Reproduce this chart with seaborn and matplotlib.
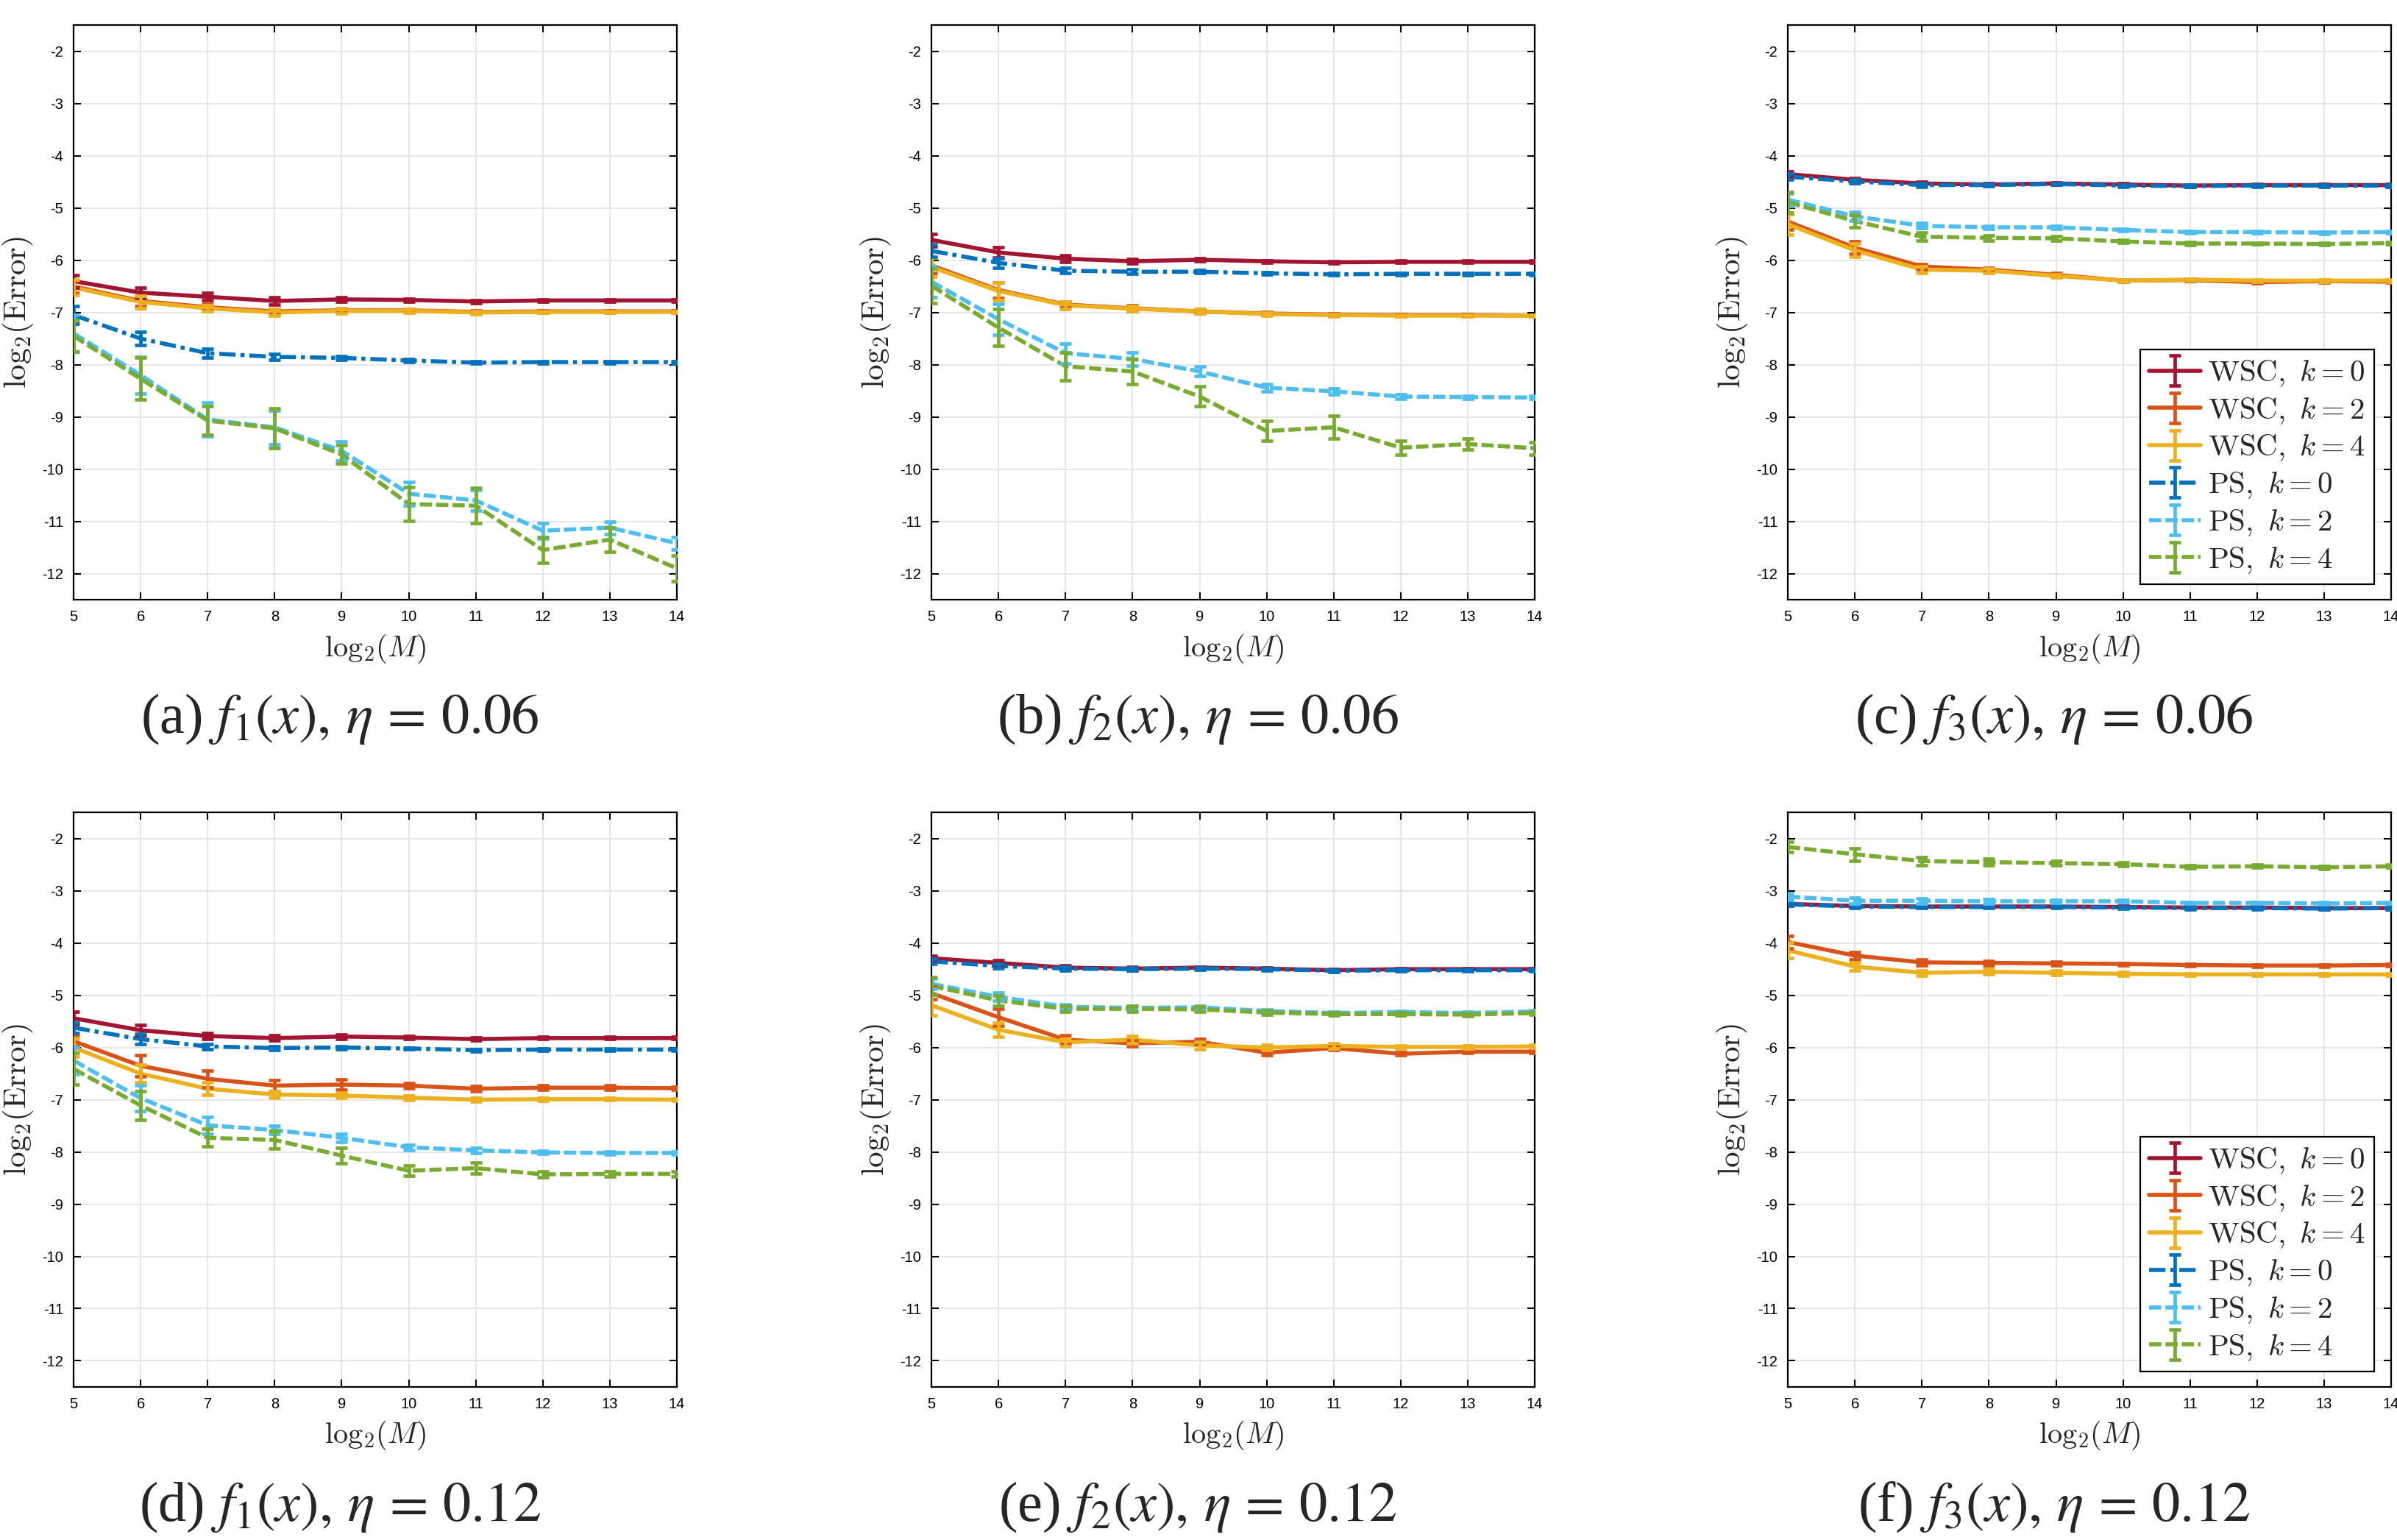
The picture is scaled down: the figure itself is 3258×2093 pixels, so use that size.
import numpy as np
import pandas as pd
import matplotlib.pyplot as plt
import seaborn as sns
from matplotlib.legend_handler import HandlerErrorbar

# estilo: seaborn como base, depois ajustes tipo MATLAB
sns.set_theme(style='whitegrid')
plt.rcParams['font.family'] = ['Liberation Sans', 'DejaVu Sans']
plt.rcParams['mathtext.fontset'] = 'cm'
plt.rcParams['axes.unicode_minus'] = False

# eixo x comum
log2_M = [5, 6, 7, 8, 9, 10, 11, 12, 13, 14]

series = ['WSC, k=0', 'WSC, k=2', 'WSC, k=4', 'PS, k=0', 'PS, k=2', 'PS, k=4']
legend_labels = [r'$\mathrm{WSC},\ k = 0$', r'$\mathrm{WSC},\ k = 2$', r'$\mathrm{WSC},\ k = 4$',
                 r'$\mathrm{PS},\ k = 0$', r'$\mathrm{PS},\ k = 2$', r'$\mathrm{PS},\ k = 4$']
colors = ['#A2142F', '#D95319', '#EDB120', '#0072BD', '#4DBEEE', '#77AC30']
dash_styles = ['', '', '', (4, 1.2, 1, 1.2), (3, 1), (3, 1)]

captions = [r'(a) $f_1(x),\, \eta\, =\, 0.06$', r'(b) $f_2(x),\, \eta\, =\, 0.06$',
            r'(c) $f_3(x),\, \eta\, =\, 0.06$', r'(d) $f_1(x),\, \eta\, =\, 0.12$',
            r'(e) $f_2(x),\, \eta\, =\, 0.12$', r'(f) $f_3(x),\, \eta\, =\, 0.12$']

# (a) f1, eta = 0.06  -- ordem: WSC k0, k2, k4, PS k0, k2, k4
mean_a = [[-6.40, -6.62, -6.70, -6.78, -6.75, -6.76, -6.79, -6.77, -6.77, -6.77],
          [-6.50, -6.78, -6.90, -6.98, -6.96, -6.96, -6.99, -6.98, -6.98, -6.98],
          [-6.52, -6.80, -6.92, -7.00, -6.97, -6.97, -7.00, -6.99, -6.99, -6.99],
          [-7.05, -7.50, -7.78, -7.85, -7.87, -7.92, -7.96, -7.95, -7.95, -7.95],
          [-7.40, -8.20, -9.05, -9.20, -9.65, -10.47, -10.60, -11.18, -11.12, -11.42],
          [-7.45, -8.27, -9.07, -9.22, -9.72, -10.67, -10.70, -11.55, -11.35, -11.90]]
err_a = [[0.12, 0.10, 0.07, 0.07, 0.04, 0.03, 0.03, 0.02, 0.02, 0.02],
         [0.12, 0.10, 0.06, 0.05, 0.04, 0.03, 0.03, 0.02, 0.02, 0.02],
         [0.15, 0.12, 0.06, 0.06, 0.05, 0.03, 0.03, 0.02, 0.02, 0.02],
         [0.17, 0.13, 0.08, 0.05, 0.04, 0.03, 0.02, 0.02, 0.02, 0.02],
         [0.35, 0.35, 0.32, 0.32, 0.18, 0.22, 0.20, 0.15, 0.12, 0.12],
         [0.30, 0.40, 0.28, 0.38, 0.18, 0.32, 0.34, 0.25, 0.23, 0.25]]

# (b) f2, eta = 0.06
mean_b = [[-5.61, -5.85, -5.97, -6.02, -5.99, -6.02, -6.04, -6.03, -6.03, -6.03],
          [-6.10, -6.57, -6.85, -6.92, -6.98, -7.02, -7.04, -7.05, -7.05, -7.06],
          [-6.13, -6.59, -6.86, -6.93, -6.98, -7.03, -7.05, -7.06, -7.06, -7.06],
          [-5.82, -6.05, -6.20, -6.22, -6.22, -6.25, -6.27, -6.26, -6.26, -6.26],
          [-6.41, -7.13, -7.78, -7.89, -8.13, -8.44, -8.51, -8.61, -8.62, -8.63],
          [-6.49, -7.29, -8.03, -8.13, -8.61, -9.27, -9.20, -9.59, -9.52, -9.60]]
err_b = [[0.12, 0.10, 0.06, 0.04, 0.03, 0.02, 0.02, 0.02, 0.02, 0.02],
         [0.15, 0.15, 0.06, 0.05, 0.04, 0.03, 0.02, 0.02, 0.02, 0.02],
         [0.18, 0.17, 0.07, 0.05, 0.04, 0.03, 0.02, 0.02, 0.02, 0.02],
         [0.12, 0.09, 0.05, 0.04, 0.03, 0.02, 0.02, 0.02, 0.02, 0.02],
         [0.30, 0.30, 0.19, 0.13, 0.09, 0.07, 0.06, 0.04, 0.03, 0.03],
         [0.33, 0.35, 0.27, 0.24, 0.19, 0.19, 0.22, 0.14, 0.10, 0.12]]

# (c) f3, eta = 0.06
mean_c = [[-4.35, -4.46, -4.53, -4.55, -4.53, -4.55, -4.57, -4.56, -4.56, -4.56],
          [-5.26, -5.76, -6.12, -6.18, -6.28, -6.39, -6.38, -6.42, -6.40, -6.41],
          [-5.31, -5.81, -6.18, -6.20, -6.30, -6.39, -6.37, -6.39, -6.39, -6.39],
          [-4.40, -4.49, -4.56, -4.56, -4.54, -4.57, -4.58, -4.57, -4.57, -4.57],
          [-4.84, -5.16, -5.34, -5.37, -5.37, -5.42, -5.46, -5.46, -5.47, -5.46],
          [-4.89, -5.25, -5.55, -5.57, -5.58, -5.64, -5.68, -5.68, -5.69, -5.67]]
err_c = [[0.05, 0.04, 0.03, 0.02, 0.02, 0.02, 0.02, 0.02, 0.02, 0.02],
         [0.15, 0.12, 0.05, 0.04, 0.03, 0.02, 0.02, 0.02, 0.02, 0.02],
         [0.20, 0.13, 0.06, 0.04, 0.03, 0.02, 0.02, 0.02, 0.02, 0.02],
         [0.06, 0.04, 0.03, 0.02, 0.02, 0.02, 0.02, 0.02, 0.02, 0.02],
         [0.12, 0.08, 0.05, 0.03, 0.03, 0.02, 0.02, 0.02, 0.02, 0.02],
         [0.20, 0.12, 0.08, 0.05, 0.04, 0.03, 0.03, 0.02, 0.02, 0.02]]

# (d) f1, eta = 0.12
mean_d = [[-5.44, -5.67, -5.78, -5.82, -5.79, -5.81, -5.84, -5.82, -5.82, -5.82],
          [-5.88, -6.35, -6.60, -6.73, -6.71, -6.73, -6.79, -6.77, -6.77, -6.78],
          [-6.00, -6.50, -6.79, -6.90, -6.92, -6.96, -7.00, -6.99, -6.99, -7.00],
          [-5.62, -5.84, -5.98, -6.01, -6.00, -6.02, -6.05, -6.04, -6.04, -6.04],
          [-6.25, -6.97, -7.49, -7.58, -7.73, -7.91, -7.97, -8.01, -8.02, -8.02],
          [-6.41, -7.11, -7.73, -7.77, -8.07, -8.36, -8.31, -8.43, -8.42, -8.42]]
err_d = [[0.12, 0.10, 0.06, 0.05, 0.04, 0.03, 0.03, 0.02, 0.02, 0.02],
         [0.10, 0.20, 0.16, 0.10, 0.10, 0.05, 0.05, 0.04, 0.04, 0.03],
         [0.18, 0.17, 0.12, 0.06, 0.05, 0.04, 0.03, 0.03, 0.02, 0.02],
         [0.10, 0.10, 0.05, 0.04, 0.03, 0.02, 0.02, 0.02, 0.02, 0.02],
         [0.26, 0.25, 0.16, 0.08, 0.08, 0.05, 0.05, 0.03, 0.03, 0.03],
         [0.30, 0.28, 0.17, 0.17, 0.15, 0.10, 0.10, 0.06, 0.05, 0.05]]

# (e) f2, eta = 0.12
mean_e = [[-4.29, -4.38, -4.47, -4.49, -4.47, -4.49, -4.52, -4.50, -4.50, -4.50],
          [-4.96, -5.42, -5.85, -5.92, -5.89, -6.10, -6.01, -6.12, -6.08, -6.08],
          [-5.19, -5.66, -5.90, -5.85, -5.96, -6.00, -5.97, -5.99, -5.99, -5.98],
          [-4.35, -4.44, -4.49, -4.50, -4.49, -4.50, -4.53, -4.52, -4.52, -4.52],
          [-4.78, -5.03, -5.22, -5.24, -5.23, -5.30, -5.34, -5.32, -5.34, -5.31],
          [-4.82, -5.10, -5.26, -5.26, -5.27, -5.33, -5.36, -5.36, -5.37, -5.34]]
err_e = [[0.05, 0.05, 0.04, 0.03, 0.02, 0.02, 0.02, 0.02, 0.02, 0.02],
         [0.12, 0.16, 0.08, 0.06, 0.05, 0.04, 0.04, 0.03, 0.03, 0.03],
         [0.20, 0.13, 0.07, 0.07, 0.07, 0.05, 0.05, 0.03, 0.03, 0.03],
         [0.05, 0.04, 0.04, 0.03, 0.02, 0.02, 0.02, 0.02, 0.02, 0.02],
         [0.10, 0.08, 0.05, 0.04, 0.03, 0.03, 0.02, 0.02, 0.02, 0.02],
         [0.17, 0.10, 0.06, 0.06, 0.05, 0.04, 0.03, 0.03, 0.03, 0.03]]

# (f) f3, eta = 0.12
mean_f = [[-3.25, -3.29, -3.30, -3.30, -3.30, -3.31, -3.32, -3.32, -3.33, -3.33],
          [-3.98, -4.24, -4.37, -4.38, -4.39, -4.40, -4.42, -4.43, -4.43, -4.42],
          [-4.14, -4.45, -4.57, -4.55, -4.57, -4.59, -4.60, -4.60, -4.60, -4.60],
          [-3.26, -3.30, -3.31, -3.31, -3.31, -3.32, -3.33, -3.33, -3.34, -3.33],
          [-3.11, -3.19, -3.19, -3.20, -3.20, -3.20, -3.23, -3.23, -3.24, -3.23],
          [-2.16, -2.30, -2.43, -2.45, -2.47, -2.49, -2.54, -2.53, -2.55, -2.53]]
err_f = [[0.03, 0.03, 0.02, 0.02, 0.02, 0.02, 0.02, 0.02, 0.02, 0.02],
         [0.12, 0.07, 0.05, 0.04, 0.03, 0.02, 0.02, 0.02, 0.02, 0.02],
         [0.15, 0.08, 0.05, 0.05, 0.04, 0.03, 0.02, 0.02, 0.02, 0.02],
         [0.03, 0.03, 0.02, 0.02, 0.02, 0.02, 0.02, 0.02, 0.02, 0.02],
         [0.07, 0.06, 0.05, 0.04, 0.03, 0.02, 0.02, 0.02, 0.02, 0.02],
         [0.10, 0.12, 0.08, 0.06, 0.04, 0.03, 0.03, 0.03, 0.03, 0.03]]

panels = [(mean_a, err_a), (mean_b, err_b), (mean_c, err_c),
          (mean_d, err_d), (mean_e, err_e), (mean_f, err_f)]

palette = dict(zip(series, colors))
dashes = dict(zip(series, dash_styles))

fig = plt.figure(figsize=(32.58, 20.93), dpi=100)

col_left = [0.0307, 0.3886, 0.7459]
row_bottom = [0.6106, 0.0994]
ax_w, ax_h = 0.2517, 0.3730
cap_x = [0.1418, 0.4997, 0.8570]
cap_y = [0.5332, 0.0215]

LW = 4.0
ELW = 3.4
for i, (means, errs) in enumerate(panels):
    r, c = divmod(i, 3)
    ax = fig.add_axes([col_left[c], row_bottom[r], ax_w, ax_h])
    ax.set_facecolor('white')

    # tabela longa para o seaborn
    df = pd.DataFrame({
        'M': np.tile(log2_M, len(series)),
        'val': np.concatenate(means),
        'err': np.concatenate(errs),
        'serie': np.repeat(series, len(log2_M)),
    })
    sns.lineplot(data=df, x='M', y='val', hue='serie', style='serie',
                 palette=palette, dashes=dashes, linewidth=LW,
                 legend=False, ax=ax, zorder=3)
    for s, col in zip(series, colors):
        d = df[df['serie'] == s]
        ax.errorbar(d['M'], d['val'], yerr=d['err'], fmt='none', ecolor=col,
                    elinewidth=ELW, capsize=6, capthick=ELW, zorder=3)

    ax.set_xlim(5, 14)
    ax.set_ylim(-12.5, -1.5)
    ax.set_xticks(range(5, 15))
    ax.set_yticks(range(-12, -1))
    ax.grid(True, color='#e2e2e2', linewidth=1.2)
    for sp in ax.spines.values():
        sp.set_visible(True)
        sp.set_color('black')
        sp.set_linewidth(1.6)
    ax.tick_params(direction='in', length=7, width=1.5, colors='black',
                   bottom=True, left=True, top=True, right=True,
                   labelsize=14.5, pad=10)

    ax.set_xlabel(r'$\mathrm{log}_2(M)$', fontsize=29)
    ax.set_ylabel(r'$\mathrm{log}_2(\mathrm{Error})$', fontsize=31)
    ax.xaxis.label.set_va('center')
    ax.yaxis.label.set_va('center')
    ax.xaxis.set_label_coords(0.5, -0.085)
    ax.yaxis.set_label_coords(-0.092, 0.5)

    # legenda só na última coluna
    if c == 2:
        handles = []
        for lab, col, dsh in zip(legend_labels, colors, dash_styles):
            ls = '-' if dsh == '' else (0, dsh)
            h = ax.errorbar([np.nan], [np.nan], yerr=[0.1], color=col, ls=ls,
                            lw=LW, elinewidth=ELW, capsize=6, capthick=ELW, label=lab)
            handles.append(h)
        ax.legend(handles=handles, loc='lower right', bbox_to_anchor=(0.972, 0.027),
                  borderaxespad=0, fontsize=29.5, frameon=True, fancybox=False,
                  framealpha=1, edgecolor='black', handlelength=1.7, handletextpad=0.25,
                  labelspacing=0.24, borderpad=0.3,
                  handler_map={type(handles[0]): HandlerErrorbar(yerr_size=0.5)})
        ax.get_legend().get_frame().set_linewidth(1.6)

    fig.text(cap_x[c], cap_y[r], captions[i], ha='center', va='center',
             fontsize=55, family='Liberation Serif', math_fontfamily='stix')

plt.savefig('out.png', dpi=100)
